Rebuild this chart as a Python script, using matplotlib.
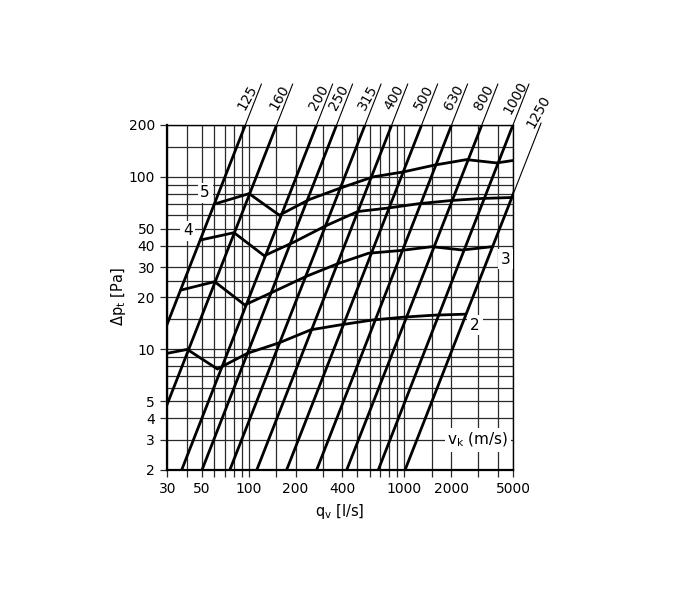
import numpy as np
import matplotlib.pyplot as plt

# duct diameters (mm) and flow (l/s) where each line reaches 2 Pa and 200 Pa
diam = [125, 160, 200, 250, 315, 400, 500, 630, 800, 1000, 1250]
q_at_2 = [12.8, 20.4, 37.0, 50.0, 75.5, 112.5, 175, 273, 426, 680, 1011]
q_at_200 = [95, 151, 273, 367, 559, 830, 1292, 2013, 3152, 5000, 7490]

# curves of constant velocity vk (m/s): flow (l/s) and pressure drop (Pa)
q_v2 = [30, 40.2, 62.8, 98.2, 155.9, 251.3, 392.7, 623, 1005, 1571, 2454]
dp_v2 = [9.5, 10.0, 7.7, 9.5, 10.9, 13.0, 13.9, 14.8, 15.4, 15.8, 16.0]
q_v3 = [36.8, 60.3, 94.2, 147.3, 233.8, 377, 589, 935, 1508, 2356, 3682]
dp_v3 = [22.1, 24.7, 18.1, 21.8, 26.5, 31.5, 36.1, 37.4, 39.4, 37.7, 39.4]
q_v4 = [49.1, 80.4, 125.7, 196.3, 311.7, 502.7, 785.4, 1247, 2011, 3142, 5000]
dp_v4 = [43.1, 47.5, 34.9, 42, 52, 63, 66, 70, 73, 75, 76]
q_v5 = [61.4, 100.5, 157.1, 245.4, 389.7, 628.3, 981.7, 1558.6, 2513, 3927, 5000]
dp_v5 = [70, 80, 60, 74, 86.3, 100, 106.8, 117, 126, 120.5, 124.5]

grid_x = [30, 40, 50, 60, 70, 80, 90, 100, 150, 200, 300, 400, 500, 600, 700,
          800, 900, 1000, 1500, 2000, 3000, 4000, 5000]
grid_y = [2, 3, 4, 5, 6, 7, 8, 9, 10, 15, 20, 25, 30, 40, 50, 60, 70, 80, 90,
          100, 150, 200]
x_labelled = [30, 50, 100, 200, 400, 1000, 2000, 5000]
y_labelled = [2, 3, 4, 5, 10, 20, 30, 40, 50, 100, 200]

fig = plt.figure(figsize=(6.8, 6.0), dpi=100)
ax = fig.add_axes([0.2463, 0.2167, 0.5081, 0.575])
ax.set_xscale('log')
ax.set_yscale('log')
ax.set_xlim(30, 5000)
ax.set_ylim(2, 200)

for x in grid_x:
    ax.axvline(x, color='#2a2a2a', lw=0.9, zorder=1)
for y in grid_y:
    ax.axhline(y, color='#2a2a2a', lw=0.9, zorder=1)

ax.set_xticks(grid_x, [str(x) if x in x_labelled else '' for x in grid_x])
ax.set_yticks(y_labelled, [str(y) for y in y_labelled])
ax.minorticks_off()
ax.tick_params(direction='out', length=5, width=0.9, labelsize=10, pad=4,
               color='#2a2a2a')
for s in ['left', 'bottom']:
    ax.spines[s].set_linewidth(1.6)
for s in ['top', 'right']:
    ax.spines[s].set_linewidth(1.0)

# diameter lines
for d, lo, hi in zip(diam, q_at_2, q_at_200):
    ax.plot([lo, hi], [2, 200], color='k', lw=2.0, zorder=3,
            solid_capstyle='butt')
    k = 2 / np.log10(hi / lo)
    if hi <= 5000:
        x0, y0, y1 = hi, 200, 345
        off = (1.8, 20)
    else:
        x0 = 5000
        y0 = 2 * (5000 / lo) ** k
        y1 = 205
        off = (18, 60)
    x1 = x0 * (y1 / y0) ** (1 / k)
    ax.plot([x0, x1], [y0, y1], color='k', lw=0.8, clip_on=False, zorder=3)
    ax.annotate(str(d), xy=(x0, y0), xytext=off, textcoords='offset points',
                ha='center', va='center', rotation=61, fontsize=10,
                annotation_clip=False)

# velocity curves
for q, dp in [(q_v2, dp_v2), (q_v3, dp_v3), (q_v4, dp_v4), (q_v5, dp_v5)]:
    ax.plot(q, dp, color='k', lw=2.0, zorder=3, solid_joinstyle='miter')

box = dict(facecolor='white', edgecolor='none', pad=2)
ax.text(2850, 13.85, '2', ha='center', va='center', fontsize=11, bbox=box, zorder=5)
ax.text(4485, 33.4, '3', ha='center', va='center', fontsize=11, bbox=box, zorder=5)
ax.text(40.5, 48.6, '4', ha='center', va='center', fontsize=11, bbox=box, zorder=5)
ax.text(52.4, 80.7, '5', ha='center', va='center', fontsize=11, bbox=box, zorder=5)
ax.text(2977, 3.0, r'v$_\mathregular{k}$ (m/s)', ha='center', va='center',
        fontsize=11, bbox=box, zorder=5)

fig.text(0.5, 0.148, r'q$_\mathregular{v}$ [l/s]', ha='center', va='center', fontsize=10.5)
fig.text(0.175, 0.505, r'$\Delta$p$_\mathregular{t}$ [Pa]', ha='center', va='center',
         rotation=90, fontsize=10.5)

fig.savefig('out.png', dpi=100)
